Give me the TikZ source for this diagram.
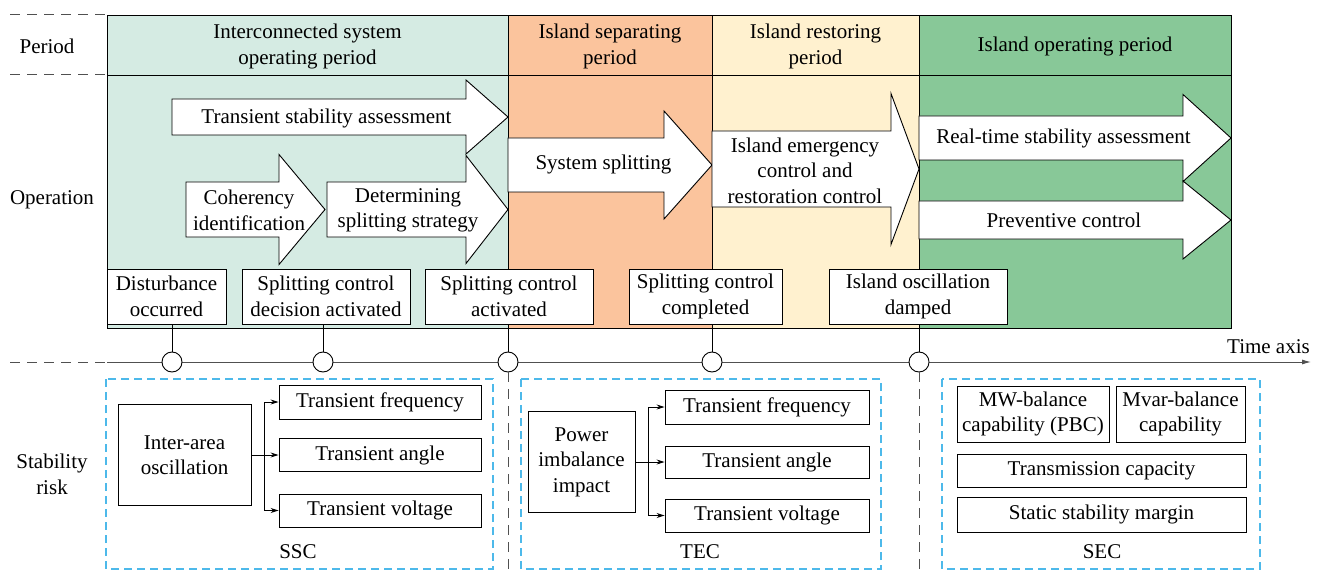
\documentclass[tikz,border=0pt]{standalone}
\usepackage{fontspec}
\setmainfont{Liberation Serif}
\usetikzlibrary{arrows.meta,calc}

\definecolor{icGreen}{HTML}{D5EBE3}
\definecolor{isOrange}{HTML}{FBC49D}
\definecolor{irYellow}{HTML}{FFF1CF}
\definecolor{ioGreen}{HTML}{88C898}
\definecolor{riskBlue}{HTML}{4DB9EA}
\definecolor{guide}{HTML}{505050}

% block arrow: left x, neck x, tip x, body top y, body bottom y, head half-height
\newcommand{\blockarrow}[6]{%
  \draw[blk] (#1,#4) -- (#2,#4) -- (#2,{(#4+#5)/2-#6}) -- (#3,{(#4+#5)/2})
    -- (#2,{(#4+#5)/2+#6}) -- (#2,#5) -- (#1,#5) -- cycle;}

\begin{document}
\begin{tikzpicture}[x=1pt,y=-1pt,
  font=\fontsize{21}{25.5}\selectfont,
  txt/.style={align=center, inner sep=0pt, yshift=-1.5pt},
  frame/.style={draw=black, line width=0.9pt},
  blk/.style={draw=black, fill=white, line width=0.9pt, line join=miter},
  evbox/.style={draw=black, fill=white, line width=0.9pt, align=center,
    minimum height=55pt, inner sep=1pt},
  rbox/.style={draw=black, fill=white, line width=0.9pt, align=center, inner sep=1pt},
  tick/.style={circle, draw=black, fill=white, minimum size=20pt, inner sep=0pt,
    line width=0.9pt},
  stem/.style={draw=black, line width=0.9pt},
  riskframe/.style={draw=riskBlue, dash pattern=on 8pt off 5pt, line width=1.4pt},
  guideline/.style={draw=guide, dash pattern=on 10pt off 7pt, line width=1pt},
  branch/.style={draw=black, line width=0.9pt, -{Stealth[length=8pt,width=5pt]}},
  axisline/.style={draw=guide, line width=1pt, -{Latex[length=9pt,width=5pt]}}
]
\useasboundingbox (0,0) rectangle (1322,572);

% ---- period columns ----
\fill[icGreen]  (107,15) rectangle (508,328);
\fill[isOrange] (508,15) rectangle (712,328);
\fill[irYellow] (712,15) rectangle (919,328);
\fill[ioGreen]  (919,15) rectangle (1231,328);
\draw[frame] (107,15) rectangle (508,328);
\draw[frame] (508,15) rectangle (712,328);
\draw[frame] (712,15) rectangle (919,328);
\draw[frame] (919,15) rectangle (1231,328);
\draw[frame] (107,75) -- (1231,75);

% row guides on the left
\draw[guideline] (10,15) -- (107,15);
\draw[guideline] (10,75) -- (107,75);
\draw[guideline] (10,362) -- (107,362);

% row labels
\node[txt] (lp) at (47,45) {Period};
\node[txt] (lo) at (52,198) {Operation};
\node[txt] (ls) at (52,473) {Stability\\risk};

% period headers
\node[txt] (p1) at (307.5,45) {Interconnected system\\operating period};
\node[txt] (p2) at (610,45) {Island separating\\period};
\node[txt] (p3) at (815.5,45) {Island restoring\\period};
\node[txt] (p4) at (1075,45) {Island operating period};

% ---- operations ----
\blockarrow{172}{466}{508}{99}{135}{37}
\blockarrow{186}{279}{325}{182}{237}{55}
\blockarrow{327}{466}{508}{182}{237}{54}
\blockarrow{508}{664}{712}{138}{192}{54}
\blockarrow{712}{891}{919}{131}{207}{75.5}
\blockarrow{919}{1183}{1231}{116}{160}{43.5}
\blockarrow{919}{1183}{1231}{201}{239}{39}

\node[txt] (tsa)  at (326.5,117) {Transient stability assessment};
\node[txt] (coh)  at (249,209) {Coherency\\identification};
\node[txt] (det)  at (408,209) {Determining\\splitting strategy};
\node[txt] (sys)  at (603.5,163) {System splitting};
\node[txt] (iec)  at (805,169) {Island emergency\\control and\\restoration control};
\node[txt] (rts)  at (1063.5,137) {Real-time stability assessment};
\node[txt] (prev) at (1064,219) {Preventive control};

% ---- events ----
\node[evbox, minimum width=119pt] (ev1) at (166.5,296.5) {Disturbance\\occurred};
\node[evbox, minimum width=168pt] (ev2) at (326,296.5) {Splitting control\\decision activated};
\node[evbox, minimum width=168pt] (ev3) at (509,296.5) {Splitting control\\activated};
\node[evbox, minimum width=153pt] (ev4) at (705.5,296.5) {Splitting control\\completed};
\node[evbox, minimum width=178pt] (ev5) at (918,296.5) {Island oscillation\\damped};

% ---- time axis ----
\coordinate (tstart) at (107,362);
\coordinate (tend) at (1311,362);
\draw[axisline] (tstart) -- (tend);
\node[txt, anchor=south east] (tlabel) at (1310,352) {Time axis};

\node[tick] (c1) at (172,362) {};
\node[tick] (c2) at (323,362) {};
\node[tick] (c3) at (508,362) {};
\node[tick] (c4) at (712,362) {};
\node[tick] (c5) at (919,362) {};

\draw[stem] (ev1.south -| c1) -- (c1.north);
\draw[stem] (ev2.south -| c2) -- (c2.north);
\draw[stem] (ev3.south -| c3) -- (c3.north);
\draw[stem] (ev4.south -| c4) -- (c4.north);
\draw[stem] (ev5.south -| c5) -- (c5.north);

\coordinate (g3) at (508,572);
\coordinate (g5) at (919,572);
\draw[guideline] (c3.south) -- (g3);
\draw[guideline] (c5.south) -- (g5);

% ---- stability risk: SSC ----
\draw[riskframe] (106,379) rectangle (493,569);
\node[rbox, minimum width=133pt, minimum height=101pt] (ia) at (184.5,455) {Inter-area\\oscillation};
\node[rbox, minimum width=202pt, minimum height=34pt] (f1) at (380,402) {Transient frequency};
\node[rbox, minimum width=202pt, minimum height=33pt] (a1) at (380,455) {Transient angle};
\node[rbox, minimum width=202pt, minimum height=33pt] (v1) at (380,510.5) {Transient voltage};
\coordinate (j1) at (264,455);
\draw[stem] (ia.east) -- (j1);
\draw[branch] (j1) |- (f1.west);
\draw[branch] (j1) -- (a1.west);
\draw[branch] (j1) |- (v1.west);
\node[txt] (ssc) at (298,550) {SSC};

% ---- stability risk: TEC ----
\draw[riskframe] (521,379) rectangle (881,569);
\node[rbox, minimum width=107pt, minimum height=101pt] (pi) at (581.5,462) {Power\\imbalance\\impact};
\node[rbox, minimum width=204pt, minimum height=34pt] (f2) at (767,407) {Transient frequency};
\node[rbox, minimum width=204pt, minimum height=32pt] (a2) at (767,462) {Transient angle};
\node[rbox, minimum width=204pt, minimum height=33pt] (v2) at (767,515.5) {Transient voltage};
\coordinate (j2) at (648,462);
\draw[stem] (pi.east) -- (j2);
\draw[branch] (j2) |- (f2.west);
\draw[branch] (j2) -- (a2.west);
\draw[branch] (j2) |- (v2.west);
\node[txt] (tec) at (700,550) {TEC};

% ---- stability risk: SEC ----
\draw[riskframe] (942,379) rectangle (1260,569);
\node[rbox, minimum width=152pt, minimum height=56pt] (mw) at (1033,414) {MW-balance\\capability (PBC)};
\node[rbox, minimum width=129pt, minimum height=56pt] (mv) at (1180.5,414) {Mvar-balance\\capability};
\node[rbox, minimum width=289pt, minimum height=33pt] (tc) at (1101.5,470.5) {Transmission capacity};
\node[rbox, minimum width=289pt, minimum height=35pt] (ss) at (1101.5,514.5) {Static stability margin};
\node[txt] (sec) at (1102,550) {SEC};

\end{tikzpicture}
\end{document}
